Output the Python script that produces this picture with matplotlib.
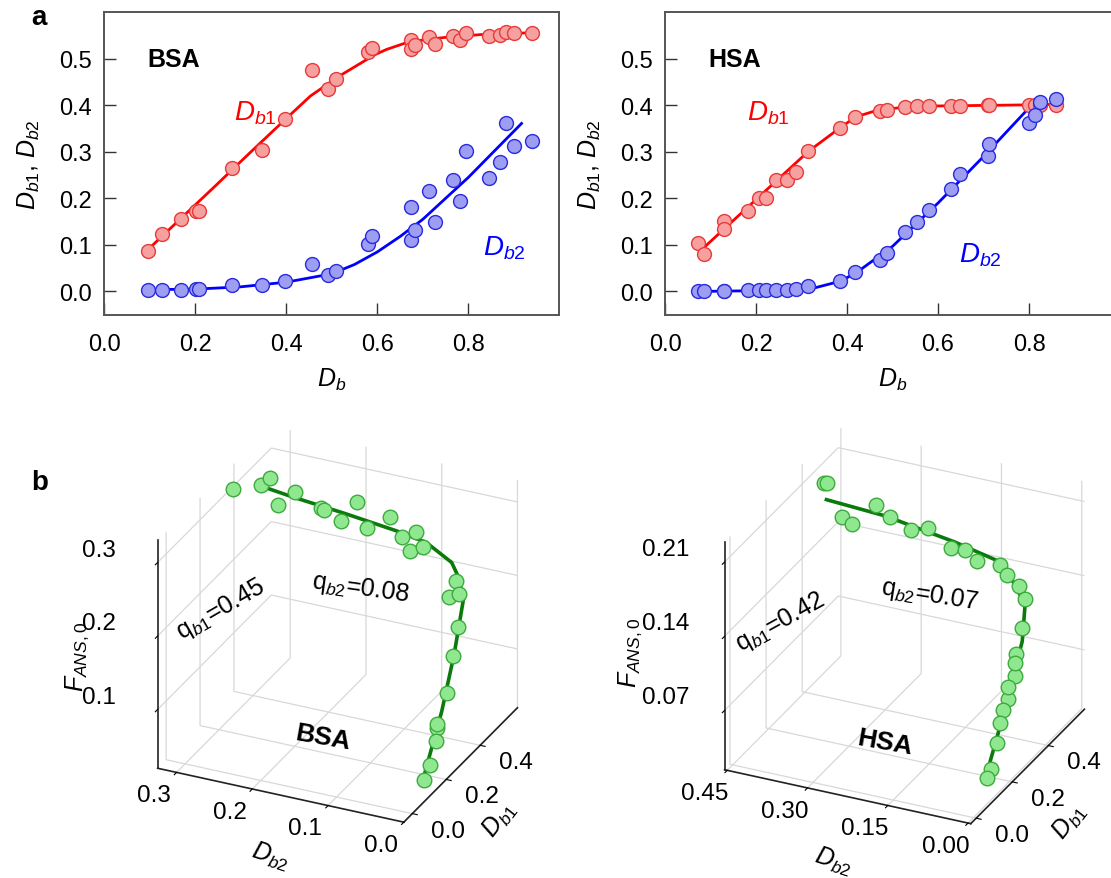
import matplotlib
matplotlib.use('Agg')
import matplotlib.pyplot as plt
import numpy as np
from matplotlib.ticker import FormatStrFormatter

plt.rcParams['font.family'] = ['Liberation Sans', 'DejaVu Sans']
plt.rcParams['mathtext.fontset'] = 'custom'
plt.rcParams['mathtext.it'] = 'Liberation Sans:italic'
plt.rcParams['mathtext.rm'] = 'Liberation Sans'
plt.rcParams['mathtext.bf'] = 'Liberation Sans:bold'

# ---- BSA data (panel a, left) ----
db_bsa = [0.096, 0.126, 0.168, 0.201, 0.208, 0.281, 0.347, 0.397, 0.457, 0.492, 0.510, 0.579, 0.588,
          0.673, 0.673, 0.683, 0.714, 0.726, 0.767, 0.782, 0.796, 0.845, 0.870, 0.882, 0.900, 0.939]
db1_bsa = [0.088, 0.124, 0.156, 0.174, 0.174, 0.265, 0.304, 0.370, 0.477, 0.436, 0.456, 0.514, 0.524,
           0.540, 0.520, 0.529, 0.547, 0.532, 0.549, 0.541, 0.556, 0.549, 0.552, 0.558, 0.556, 0.556]
db2_bsa = [0.004, 0.004, 0.004, 0.006, 0.006, 0.013, 0.014, 0.022, 0.058, 0.036, 0.045, 0.101, 0.120,
           0.181, 0.111, 0.132, 0.216, 0.149, 0.239, 0.194, 0.302, 0.244, 0.279, 0.361, 0.313, 0.324]
f_bsa = [0.045, 0.056, 0.082, 0.095, 0.100, 0.119, 0.160, 0.183, 0.191, 0.210, 0.221, 0.241, 0.229,
         0.242, 0.257, 0.243, 0.242, 0.266, 0.252, 0.274, 0.243, 0.253, 0.267, 0.251, 0.277, 0.265]

fit1_bsa_x = [0.096, 0.164, 0.242, 0.320, 0.398, 0.453, 0.515, 0.593, 0.620, 0.671, 0.749, 0.827, 0.937]
fit1_bsa_y = [0.090, 0.153, 0.225, 0.298, 0.370, 0.420, 0.462, 0.508, 0.520, 0.537, 0.546, 0.552, 0.556]
fit2_bsa_x = [0.096, 0.2, 0.3, 0.4, 0.5, 0.55, 0.6, 0.65, 0.7, 0.8, 0.917]
fit2_bsa_y = [0.004, 0.005, 0.010, 0.020, 0.038, 0.058, 0.085, 0.118, 0.155, 0.245, 0.361]

fit3d_bsa_db1 = [0.09, 0.20, 0.30, 0.40, 0.47, 0.50, 0.52, 0.53, 0.545, 0.552, 0.556]
fit3d_bsa_db2 = [0.004, 0.006, 0.012, 0.022, 0.045, 0.06, 0.098, 0.139, 0.21, 0.281, 0.314]
fit3d_bsa_f = [0.052, 0.111, 0.164, 0.214, 0.224, 0.232, 0.246, 0.250, 0.254, 0.259, 0.262]

# ---- HSA data (panel a, right) ----
db_hsa = [0.073, 0.085, 0.130, 0.130, 0.183, 0.206, 0.223, 0.243, 0.267, 0.288, 0.315, 0.385, 0.417,
          0.473, 0.488, 0.527, 0.554, 0.580, 0.629, 0.649, 0.709, 0.713, 0.800, 0.813, 0.825, 0.859]
db1_hsa = [0.104, 0.081, 0.151, 0.134, 0.173, 0.201, 0.201, 0.240, 0.240, 0.256, 0.301, 0.352, 0.375,
           0.387, 0.391, 0.396, 0.399, 0.399, 0.399, 0.399, 0.400, 0.400, 0.401, 0.401, 0.401, 0.401]
db2_hsa = [0.002, 0.002, 0.002, 0.002, 0.004, 0.004, 0.004, 0.004, 0.004, 0.006, 0.011, 0.023, 0.042,
           0.068, 0.083, 0.127, 0.150, 0.176, 0.220, 0.252, 0.291, 0.317, 0.363, 0.380, 0.408, 0.414]
f_hsa = [0.042, 0.037, 0.077, 0.0615, 0.085, 0.0915, 0.102, 0.106, 0.118, 0.124, 0.140, 0.157, 0.164,
         0.169, 0.176, 0.174, 0.182, 0.181, 0.195, 0.189, 0.197, 0.205, 0.182, 0.187, 0.2155, 0.215]

fit1_hsa_x = [0.085, 0.315, 0.385, 0.419, 0.465, 0.542, 0.80, 0.852]
fit1_hsa_y = [0.094, 0.301, 0.352, 0.375, 0.389, 0.398, 0.401, 0.402]
fit2_hsa_x = [0.073, 0.30, 0.33, 0.385, 0.42, 0.5, 0.6, 0.7, 0.81]
fit2_hsa_y = [0.0, 0.003, 0.008, 0.022, 0.04, 0.097, 0.19, 0.29, 0.405]

fit3d_hsa_db1 = [0.08, 0.20, 0.30, 0.36, 0.385, 0.395, 0.399, 0.400, 0.401]
fit3d_hsa_db2 = [0.002, 0.004, 0.010, 0.025, 0.05, 0.08, 0.17, 0.30, 0.41]
fit3d_hsa_f = [0.042, 0.090, 0.128, 0.150, 0.160, 0.178, 0.187, 0.197, 0.200]

RED_FACE, RED_EDGE = '#f7a0a0', '#e83a3a'
BLUE_FACE, BLUE_EDGE = '#9d9df2', '#2a2ae0'
GREEN_FACE, GREEN_EDGE = '#8fe88f', '#3caa3c'
GREEN_LINE = '#0a7a0a'

fig = plt.figure(figsize=(11.11, 8.79), dpi=100)


def panel_2d(ax, db, d1, d2, fx1, fy1, fx2, fy2, name, lab1, lab2):
    ax.plot(fx1, fy1, color='#ff0000', lw=2.0, zorder=2)
    ax.plot(fx2, fy2, color='#0000ff', lw=2.0, zorder=2)
    ax.plot(db, d1, 'o', ms=10, mfc=RED_FACE, mec=RED_EDGE, mew=1.0, zorder=3)
    ax.plot(db, d2, 'o', ms=10, mfc=BLUE_FACE, mec=BLUE_EDGE, mew=1.0, zorder=3)
    ax.set_xlim(0, 1.0)
    ax.set_ylim(-0.05, 0.6)
    ax.set_xticks([0.0, 0.2, 0.4, 0.6, 0.8])
    ax.set_yticks([0.0, 0.1, 0.2, 0.3, 0.4, 0.5])
    ax.xaxis.set_major_formatter(FormatStrFormatter('%.1f'))
    ax.yaxis.set_major_formatter(FormatStrFormatter('%.1f'))
    ax.tick_params(direction='in', length=8.5, width=1.0, labelsize=17, color='#333333')
    ax.tick_params(axis='x', pad=13)
    ax.tick_params(axis='y', pad=9)
    for s in ax.spines.values():
        s.set_color('#555555')
        s.set_linewidth(1.4)
    ax.set_xlabel(r'$\mathit{D}_{\mathit{b}}$', fontsize=18, labelpad=8)
    ax.set_ylabel(r'$\mathit{D}_{\mathit{b1}}$, $\mathit{D}_{\mathit{b2}}$', fontsize=18, labelpad=12)
    ax.text(0.152, 0.5, name, fontsize=18, fontweight='bold', ha='center', va='center')
    ax.text(lab1[0], lab1[1], r'$\mathit{D}_{\mathit{b1}}$', color='#ff0000', fontsize=20,
            ha='center', va='center')
    ax.text(lab2[0], lab2[1], r'$\mathit{D}_{\mathit{b2}}$', color='#0000ff', fontsize=20,
            ha='center', va='center')


ax1 = fig.add_axes([0.0939, 0.6408, 0.4095, 0.3441])
panel_2d(ax1, db_bsa, db1_bsa, db2_bsa, fit1_bsa_x, fit1_bsa_y, fit2_bsa_x, fit2_bsa_y,
         'BSA', (0.332, 0.385), (0.88, 0.095))
ax2 = fig.add_axes([0.5986, 0.6408, 0.4095, 0.3441])
panel_2d(ax2, db_hsa, db1_hsa, db2_hsa, fit1_hsa_x, fit1_hsa_y, fit2_hsa_x, fit2_hsa_y,
         'HSA', (0.226, 0.386), (0.693, 0.08))


def panel_3d(rect, d1, d2, f, l1, l2, lf, xlim, ylim, zlim, xt, yt, zt, xfmt, yfmt, zfmt):
    ax = fig.add_axes(rect, projection='3d', proj_type='ortho')
    ax.set_facecolor('none')
    ax.view_init(elev=28, azim=-155)
    ax.set_box_aspect((0.99, 1.0, 0.95), zoom=0.927)
    ax.plot(l1, l2, lf, color=GREEN_LINE, lw=2.6, zorder=2)
    ax.scatter(d1, d2, f, s=110, c=GREEN_FACE, edgecolors=GREEN_EDGE, linewidths=1.0,
               depthshade=False, alpha=1, zorder=3)
    ax.set_xlim(*xlim)
    ax.set_ylim(*ylim)
    ax.set_zlim(*zlim)
    ax.set_xticks(xt)
    ax.set_yticks(yt)
    ax.set_zticks(zt)
    ax.set_xticklabels([])
    ax.set_yticklabels([])
    ax.set_zticklabels([])
    for axis in (ax.xaxis, ax.yaxis, ax.zaxis):
        axis.set_pane_color((1, 1, 1, 0))
        axis.pane.set_edgecolor('#222222')
        axis.pane.set_linewidth(1.2)
        axis.line.set_color('#222222')
        axis.line.set_linewidth(1.2)
        axis._axinfo['grid'].update(color='#d8d8d8', linewidth=0.9)
        axis._axinfo['tick'].update(inward_factor=0.25, outward_factor=0.0)
    # tick labels placed next to the front edges of the box
    x0, x1 = xlim
    y0, y1 = ylim
    z0, z1 = zlim
    for t in xt:
        ax.text(t, y0 - 0.145 * (y1 - y0), z0 - 0.04 * (z1 - z0), xfmt % t, fontsize=17.5,
                ha='center', va='center')
    for t in yt:
        ax.text(x0 - 0.2 * (x1 - x0), t, z0, yfmt % t, fontsize=17.5, ha='center', va='center')
    for t in zt:
        ax.text(x0, y1 + 0.24 * (y1 - y0), t, zfmt % t, fontsize=17.5, ha='center', va='center')
    return ax


ax3 = panel_3d([0.0806, 0.0067, 0.4347, 0.5495], db1_bsa, db2_bsa, f_bsa,
               fit3d_bsa_db1, fit3d_bsa_db2, fit3d_bsa_f,
               (-0.05, 0.62), (0.0, 0.325), (0.02, 0.33),
               [0.0, 0.2, 0.4], [0.0, 0.1, 0.2, 0.3], [0.1, 0.2, 0.3], '%.1f', '%.1f', '%.1f')
ax4 = panel_3d([0.5909, 0.005, 0.4347, 0.5495], db1_hsa, db2_hsa, f_hsa,
               fit3d_hsa_db1, fit3d_hsa_db2, fit3d_hsa_f,
               (-0.03, 0.60), (-0.005, 0.455), (0.014, 0.229),
               [0.0, 0.2, 0.4], [0.0, 0.15, 0.30, 0.45], [0.07, 0.14, 0.21], '%.1f', '%.2f', '%.2f')

# axis labels of the 3D panels
for px, py, s, rot in [(270, 857, r'$\mathit{D}_{\mathit{b2}}$', -18), (500, 820, r'$\mathit{D}_{\mathit{b1}}$', 52),
                       (77, 657, r'$\mathit{F}_{\mathit{ANS,0}}$', 90),
                       (833, 862, r'$\mathit{D}_{\mathit{b2}}$', -18), (1070, 822, r'$\mathit{D}_{\mathit{b1}}$', 52),
                       (630, 653, r'$\mathit{F}_{\mathit{ANS,0}}$', 90)]:
    fig.text(px / 1111, 1 - py / 879, s, fontsize=18, rotation=rot, ha='center', va='center')

# annotations
fig.text(0.028, 0.979, 'a', fontsize=20, fontweight='bold', va='center')
fig.text(0.028, 0.451, 'b', fontsize=20, fontweight='bold', va='center')
fig.text(221 / 1111, 1 - 610 / 879, r'q$_{b1}$=0.45', fontsize=18, rotation=30, ha='center', va='center')
fig.text(361 / 1111, 1 - 588 / 879, r'q$_{b2}$=0.08', fontsize=18, rotation=-8, ha='center', va='center')
fig.text(323 / 1111, 1 - 738 / 879, 'BSA', fontsize=19, fontweight='bold', rotation=-10, ha='center', va='center')
fig.text(780 / 1111, 1 - 622 / 879, r'q$_{b1}$=0.42', fontsize=18, rotation=29, ha='center', va='center')
fig.text(930 / 1111, 1 - 595 / 879, r'q$_{b2}$=0.07', fontsize=18, rotation=-9, ha='center', va='center')
fig.text(885 / 1111, 1 - 743 / 879, 'HSA', fontsize=19, fontweight='bold', rotation=-10, ha='center', va='center')

fig.savefig('out.png', dpi=100)
